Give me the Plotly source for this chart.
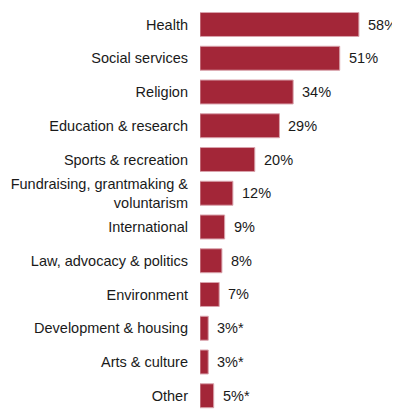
import plotly.graph_objects as go

categories = ["Health", "Social services", "Religion", "Education & research",
              "Sports & recreation", "Fundraising, grantmaking &<br>voluntarism",
              "International", "Law, advocacy & politics", "Environment",
              "Development & housing", "Arts & culture", "Other"]
values = [58, 51, 34, 29, 20, 12, 9, 8, 7, 3, 3, 5]
value_labels = ["58%", "51%", "34%", "29%", "20%", "12%", "9%", "8%", "7%",
                "3%*", "3%*", "5%*"]

bar_color = "#A32638"
font_family = "Liberation Sans, Arial, sans-serif"
fsize = 14.5

fig = go.Figure()
fig.add_trace(go.Bar(
    x=values, y=categories, orientation="h",
    marker=dict(color=bar_color, line=dict(color="#D9A3AC", width=1)),
    hoverinfo="skip",
))

for c, v, t in zip(categories, values, value_labels):
    fig.add_annotation(x=v, y=c, text=t, showarrow=False, xanchor="left",
                       xshift=7, font=dict(size=fsize, color="#1a1a1a", family=font_family))

fig.update_layout(
    width=400, height=401,
    margin=dict(l=192, r=0, t=0, b=0, autoexpand=False),
    paper_bgcolor="white", plot_bgcolor="white",
    bargap=0.29,
    showlegend=False,
    font=dict(family=font_family, size=fsize, color="#1a1a1a"),
)
fig.update_xaxes(range=[0, 73 * 208 / 200], visible=False, showgrid=False, zeroline=False,
                 automargin=False)
fig.update_yaxes(type="category", categoryorder="array", categoryarray=categories,
                 range=[11.393, -0.489], showgrid=False, zeroline=False, showline=False,
                 automargin=False,
                 ticks="", ticklabelstandoff=11, tickfont=dict(size=fsize, color="#1a1a1a"))

fig.write_html("out.html")
